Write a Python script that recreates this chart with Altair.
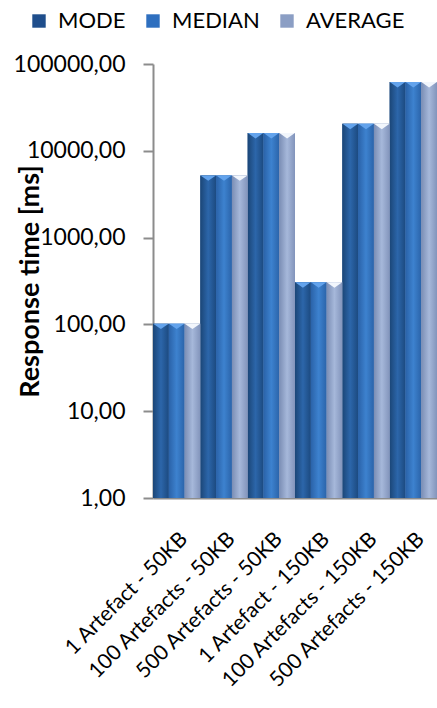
import altair as alt
import pandas as pd

categories = ["1 Artefact - 50KB", "100 Artefacts - 50KB", "500 Artefacts - 50KB",
              "1 Artefact - 150KB", "100 Artefacts - 150KB", "500 Artefacts - 150KB"]
series = ["MODE", "MEDIAN", "AVERAGE"]
mode_vals = [102, 5200, 16000, 305, 20500, 62000]
median_vals = [102, 5200, 16000, 305, 20500, 62000]
average_vals = [102, 5200, 16000, 305, 20500, 62000]
y_ticks = [1, 10, 100, 1000, 10000, 100000]

legend_colors = ["#1f4e8c", "#2e6fbf", "#8b9ec4"]
gradients = {
    "MODE": [("#1b4677", 0), ("#2c66aa", 0.5), ("#1c4a80", 1)],
    "MEDIAN": [("#2a62a8", 0), ("#3d82cf", 0.5), ("#2b64aa", 1)],
    "AVERAGE": [("#7a8db4", 0), ("#a6b8da", 0.5), ("#8294bb", 1)],
}

rows = []
for s, vals in zip(series, [mode_vals, median_vals, average_vals]):
    for c, v in zip(categories, vals):
        rows.append({"cat": c, "series": s, "value": v, "base": 1})
df = pd.DataFrame(rows)

FONT = "Lato"

x_enc = alt.X(
    "cat:N", sort=categories,
    scale=alt.Scale(domain=categories, paddingInner=0, paddingOuter=0),
    axis=alt.Axis(title=None, labelAngle=-45, labelFont=FONT, labelFontSize=21,
                  labelColor="#000000", ticks=False, domainColor="#8c8c8c",
                  domainWidth=2, labelPadding=30, labelLimit=400),
)
xoff = alt.XOffset("series:N", scale=alt.Scale(domain=series, paddingInner=0, paddingOuter=0))
y_enc = alt.Y(
    "value:Q",
    scale=alt.Scale(type="log", domain=[1, 100000]),
    axis=alt.Axis(values=y_ticks,
                  labelExpr="replace(format(datum.value, '.2f'), '.', ',')",
                  title="Response time [ms]", titleFont=FONT, titleFontSize=27,
                  titleFontWeight="bold", titleColor="#000000",
                  titleX=-109, titleY=217, titleAngle=-90,
                  labelFont=FONT, labelFontSize=23, labelColor="#000000",
                  labelPadding=18, tickSize=10, tickColor="#8c8c8c", tickWidth=2,
                  domainColor="#8c8c8c", domainWidth=2, grid=False),
)

base = alt.Chart(df).encode(x=x_enc, xOffset=xoff, y=y_enc)

legend_layer = base.mark_bar().encode(
    y2="base:Q",
    color=alt.Color(
        "series:N",
        scale=alt.Scale(domain=series, range=legend_colors),
        legend=alt.Legend(title=None, orient="none", legendX=-125, legendY=-54,
                          direction="horizontal", symbolType="square", symbolSize=180,
                          symbolStrokeWidth=0, labelFont=FONT, labelFontSize=22,
                          labelColor="#000000", columnPadding=16, labelOffset=8),
    ),
)

layers = [legend_layer]
for s in series:
    grad = alt.LinearGradient(
        gradient="linear",
        stops=[alt.GradientStop(color=c, offset=o) for c, o in gradients[s]],
        x1=0, x2=1, y1=0, y2=0,
    )
    layers.append(
        base.transform_filter(alt.datum.series == s).mark_bar(color=grad).encode(y2="base:Q")
    )

caps = base.mark_point(
    shape="M-1,-0.35L1,-0.35L0,0.35Z", filled=True, size=240, opacity=1,
    strokeWidth=0, yOffset=2.7,
).encode(
    color=alt.condition(alt.datum.series == "AVERAGE", alt.value("#f2f6fc"), alt.value("#63a3ec"))
)
layers.append(caps)

chart = alt.layer(*layers).properties(
    width=284, height=434,
    autosize=alt.AutoSizeParams(type="none"),
    padding={"left": 153, "top": 64, "right": 0, "bottom": 210},
    background="white",
).configure_view(stroke=None)

chart.save("out.html", embed_options={"renderer": "svg", "actions": False})
